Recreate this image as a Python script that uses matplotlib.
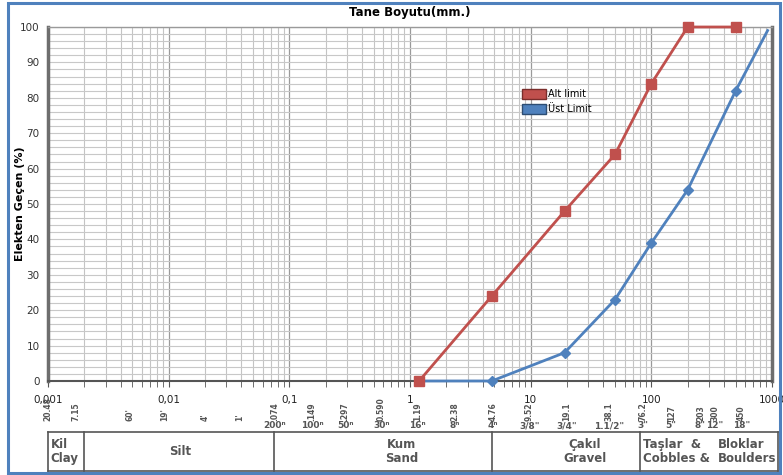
import matplotlib
matplotlib.use("Agg")
import matplotlib.pyplot as plt
from matplotlib.ticker import FixedLocator, NullFormatter, MultipleLocator
from matplotlib.patches import Rectangle, Patch
from matplotlib.lines import Line2D
import matplotlib.transforms as mtransforms

# ---- data ----
sizes_alt = [1.19, 4.76, 19.1, 50, 100, 200, 500]
pass_alt = [0, 24, 48, 64, 84, 100, 100]
sizes_ust = [1.19, 4.76, 19.1, 50, 100, 200, 500, 920]
pass_ust = [0, 0, 8, 23, 39, 54, 82, 99]

xtick_vals = [0.001, 0.01, 0.1, 1, 10, 100, 1000]
xtick_labels = ["0,001", "0,01", "0,1", "1", "10", "100", "1000"]
ytick_vals = list(range(0, 101, 10))

sieve_pos = [0.001, 0.0017, 0.0048, 0.0093, 0.02, 0.039, 0.076, 0.154, 0.29, 0.58,
             1.16, 2.36, 4.9, 9.8, 20, 45, 85, 146, 255, 335, 560]
sieve_mm = ["20.48", "7.15", "60'", "19'", "4'", "1'", ".074", ".149", ".297", "0.590",
            "1.19", "2.38", "4.76", "9.52", "19.1", "38.1", "76.2", "127", "203", "300", "450"]
sieve_no = ["", "", "", "", "", "", "200ⁿ", "100ⁿ", "50ⁿ", "30ⁿ",
            "16ⁿ", "8ⁿ", "4ⁿ", "3/8\"", "3/4\"", "1.1/2\"", "3\"", "5\"", "8\"", "12\"", "18\""]

class_bounds = [0.001, 0.002, 0.074, 4.76, 80, 1120]
class_labels = ["Kil\nClay", "Silt", "Kum\nSand", "Çakıl\nGravel", "Taşlar  &\nCobbles &"]
class_extra = "Bloklar\nBoulders"

red = "#c0504d"
blue = "#4f81bd"

fig = plt.figure(figsize=(7.83, 4.75), dpi=100)
ax = fig.add_axes([48/783, 1-381/475, (772-48)/783, (381-27)/475])
ax.set_xscale("log")
ax.set_xlim(0.001, 1000)
ax.set_ylim(0, 100)

# grid
ax.xaxis.set_major_locator(FixedLocator(xtick_vals))
ax.xaxis.set_minor_locator(FixedLocator([m * 10**e for e in range(-3, 3) for m in range(2, 10)]))
ax.yaxis.set_major_locator(FixedLocator(ytick_vals))
ax.yaxis.set_minor_locator(MultipleLocator(2))
ax.grid(True, which="major", axis="x", color="#9a9a9a", lw=0.9)
ax.grid(True, which="minor", axis="x", color="#c4c4c4", lw=0.8)
ax.grid(True, which="both", axis="y", color="#c8c8c8", lw=0.8)
ax.set_axisbelow(True)

ax.set_xticklabels(xtick_labels)
ax.xaxis.set_minor_formatter(NullFormatter())
ax.tick_params(axis="x", which="both", labelsize=7.5, pad=6, length=4, color="#555555", labelcolor="#222222")
ax.tick_params(axis="y", which="major", labelsize=7.5, length=0, pad=6, labelcolor="#333333")
ax.tick_params(axis="y", which="minor", length=0)

for s in ["left", "right"]:
    ax.spines[s].set_color("#6e6e6e")
    ax.spines[s].set_linewidth(2.5)
ax.spines["bottom"].set_color("#555555")
ax.spines["bottom"].set_linewidth(1.5)
ax.spines["top"].set_color("#9a9a9a")
ax.spines["top"].set_linewidth(1)

ax.plot(sizes_ust, pass_ust, color=blue, lw=2, marker="D", ms=5, markevery=list(range(len(sizes_ust) - 1)),
        zorder=3, clip_on=False)
ax.plot(sizes_alt, pass_alt, color=red, lw=2, marker="s", ms=7, zorder=4, clip_on=False)

ax.set_title("Tane Boyutu(mm.)", fontsize=8.5, fontweight="bold", pad=8)
ax.set_ylabel("Elekten Geçen (%)", fontsize=8, fontweight="bold")
ax.yaxis.set_label_coords(-23/724, 0.5)

handles = [Patch(facecolor=red, edgecolor="#7a2d2b", label="Alt limit"),
           Patch(facecolor=blue, edgecolor="#2d4d73", label="Üst Limit")]
ax.legend(handles=handles, loc="upper left", bbox_to_anchor=(0.65, 0.835), frameon=False,
          fontsize=7, handlelength=2.4, handleheight=1.1, handletextpad=0.2, labelspacing=0.5,
          borderaxespad=0)

# sieve labels below axis
trans = mtransforms.blended_transform_factory(ax.transData, fig.transFigure)
for xv, mm, no in zip(sieve_pos, sieve_mm, sieve_no):
    ax.text(xv, 1-421/475, mm, transform=trans, rotation=90, ha="center", va="bottom",
            fontsize=5.5, fontweight="bold", color="#555555", clip_on=False)
    if no:
        ax.text(xv, 1-426/475, no, transform=trans, ha="center", va="center",
                fontsize=6.5, fontweight="bold", color="#555555", clip_on=False)

# classification table
ytop, ybot = 1-432/475, 1-471/475
for a in class_bounds:
    ax.add_line(Line2D([a, a], [ytop, ybot], transform=trans, color="#555555", lw=1.2, clip_on=False))
ax.add_line(Line2D([class_bounds[0], class_bounds[-1]], [ytop, ytop], transform=trans, color="#555555", lw=1.2, clip_on=False))
ax.add_line(Line2D([class_bounds[0], class_bounds[-1]], [ybot, ybot], transform=trans, color="#555555", lw=1.2, clip_on=False))

tfont = dict(fontsize=8.5, fontweight="bold", color="#555555", va="center", linespacing=1.05)
ymid = (ytop + ybot) / 2
ax.text(0.00105, ymid, class_labels[0], transform=trans, ha="left", **tfont)
ax.text(0.0125, ymid, class_labels[1], transform=trans, ha="center", **tfont)
ax.text(0.85, ymid, class_labels[2], transform=trans, ha="center", **tfont)
ax.text(28, ymid, class_labels[3], transform=trans, ha="center", **tfont)
ax.text(85, ymid, class_labels[4], transform=trans, ha="left", **tfont)
ax.text(355, ymid, class_extra, transform=trans, ha="left", **tfont)

# blue frame
fig.patches.append(Rectangle((8/783, 1-473/475), (780-8)/783, (473-3)/475, transform=fig.transFigure,
                             fill=False, edgecolor="#4f81bd", lw=2.2))

fig.savefig("out.png", dpi=100)
